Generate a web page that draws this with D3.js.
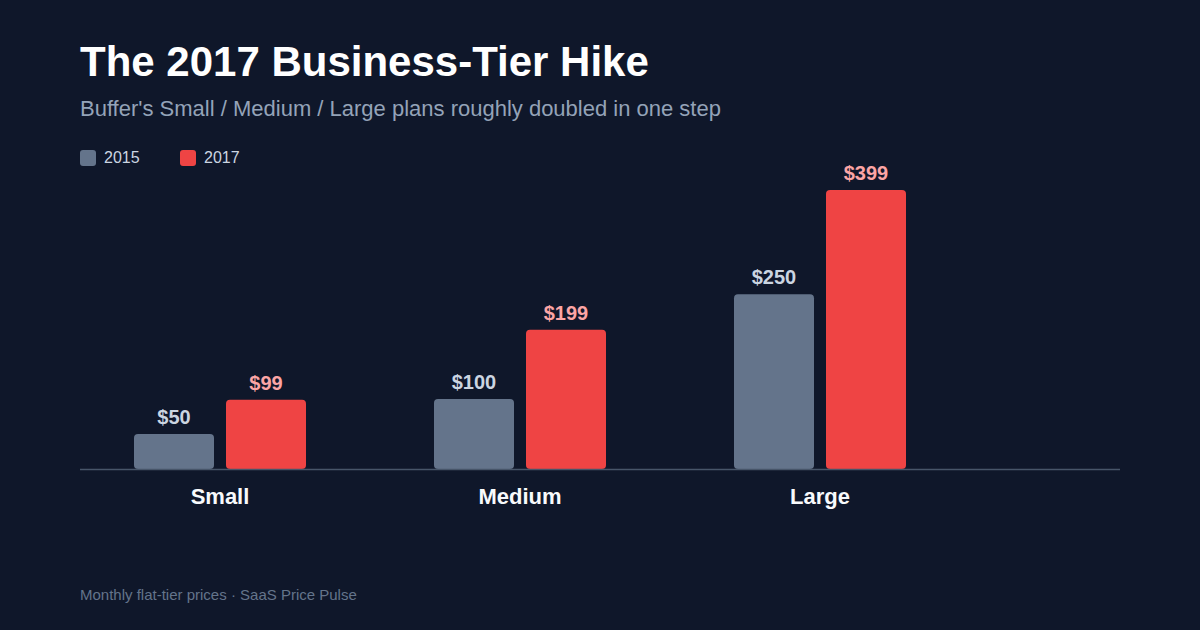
<!DOCTYPE html>
<html>
<head>
<meta charset="utf-8">
<script src="https://cdn.jsdelivr.net/npm/d3@7"></script>
<style>
  html, body { margin: 0; padding: 0; background: #0f172a; }
  svg { display: block; font-family: 'Liberation Sans', Arial, sans-serif; }
</style>
</head>
<body>
<svg width="1200" height="630"></svg>
<script>
/* global d3 */
var plans = ['Small', 'Medium', 'Large']
var years = ['2015', '2017']
var price2015 = [50, 100, 250]
var price2017 = [99, 199, 399]

var colors = { '2015': '#64748b', '2017': '#ef4444' }
var labelColors = { '2015': '#cbd5e1', '2017': '#fca5a5' }

var svg = d3.select('svg')
var width = +svg.attr('width')

svg.append('rect')
    .attr('width', width)
    .attr('height', 630)
    .attr('fill', '#0f172a')

// header
svg.append('text')
    .attr('x', 80)
    .attr('y', 76)
    .attr('fill', '#ffffff')
    .attr('font-size', 42)
    .attr('font-weight', 700)
    .text('The 2017 Business-Tier Hike')

svg.append('text')
    .attr('x', 80)
    .attr('y', 116)
    .attr('fill', '#94a3b8')
    .attr('font-size', 22)
    .text("Buffer's Small / Medium / Large plans roughly doubled in one step")

// legend
var legend = svg.append('g')
  .selectAll('g')
  .data(years)
  .enter().append('g')
    .attr('transform', (d, i) => 'translate(' + (80 + i * 100) + ',150)')

legend.append('rect')
    .attr('width', 16)
    .attr('height', 16)
    .attr('rx', 3)
    .attr('fill', d => colors[d])

legend.append('text')
    .attr('x', 24)
    .attr('y', 13)
    .attr('fill', '#cbd5e1')
    .attr('font-size', 16)
    .text(d => d)

// scales
var x = d3.scaleBand()
    .domain(plans)
    .range([70, 970])

var xInner = d3.scaleBand()
    .domain(years)
    .range([0, 172])
    .paddingInner(12 / 92)

var y = d3.scaleLinear()
    .domain([0, 399])
    .range([469, 190])

var rows = plans.map((p, i) => ({
  plan: p,
  values: [
    { year: '2015', value: price2015[i] },
    { year: '2017', value: price2017[i] }
  ]
}))

var groups = svg.append('g')
  .selectAll('g')
  .data(rows)
  .enter().append('g')
    .attr('transform', d => 'translate(' + (x(d.plan) + x.bandwidth() / 2 - 86) + ',0)')

groups.selectAll('rect')
  .data(d => d.values)
  .enter().append('rect')
    .attr('x', d => xInner(d.year))
    .attr('y', d => y(d.value))
    .attr('width', xInner.bandwidth())
    .attr('height', d => y(0) - y(d.value))
    .attr('rx', 4)
    .attr('fill', d => colors[d.year])

groups.selectAll('text.val')
  .data(d => d.values)
  .enter().append('text')
    .attr('class', 'val')
    .attr('x', d => xInner(d.year) + xInner.bandwidth() / 2)
    .attr('y', d => y(d.value) - 10)
    .attr('text-anchor', 'middle')
    .attr('fill', d => labelColors[d.year])
    .attr('font-size', 20)
    .attr('font-weight', 700)
    .text(d => '$' + d.value)

// baseline
svg.append('line')
    .attr('x1', 80)
    .attr('x2', 1120)
    .attr('y1', y(0) + 0.5)
    .attr('y2', y(0) + 0.5)
    .attr('stroke', '#475569')
    .attr('stroke-width', 1.5)

// category labels
svg.append('g')
  .selectAll('text')
  .data(plans)
  .enter().append('text')
    .attr('x', d => x(d) + x.bandwidth() / 2)
    .attr('y', 504)
    .attr('text-anchor', 'middle')
    .attr('fill', '#f8fafc')
    .attr('font-size', 22)
    .attr('font-weight', 700)
    .text(d => d)

// footer
svg.append('text')
    .attr('x', 80)
    .attr('y', 600)
    .attr('fill', '#64748b')
    .attr('font-size', 15)
    .text('Monthly flat-tier prices · SaaS Price Pulse')
</script>
</body>
</html>
